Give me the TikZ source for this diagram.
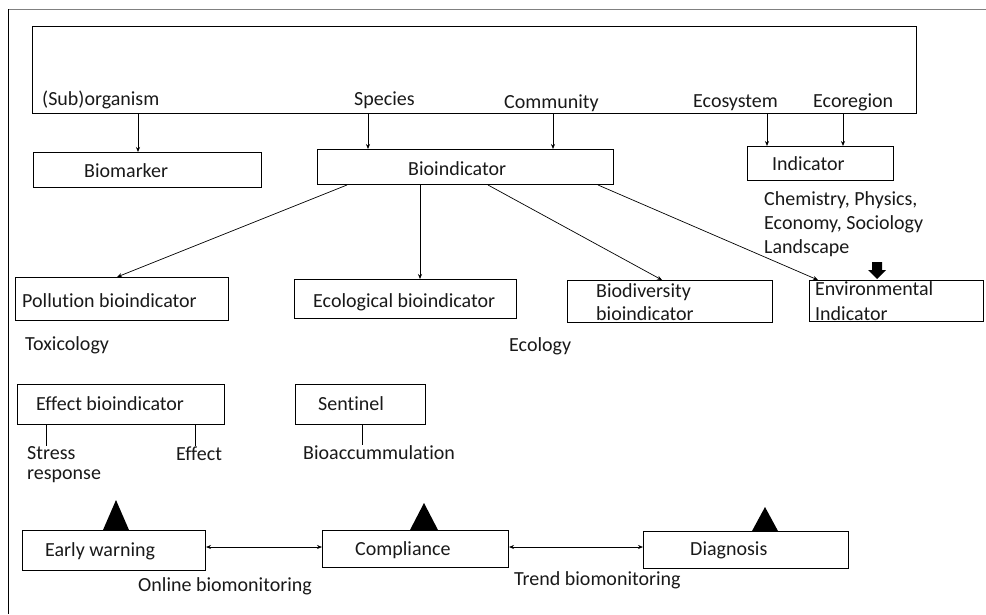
\documentclass[tikz,border=0pt]{standalone}
\usepackage{fontspec}
\setmainfont{Carlito}[Ligatures = NoCommon]
\usetikzlibrary{arrows.meta}

\begin{document}
\begin{tikzpicture}[
    x = 1pt, y = -1pt,
    every node/.style = {font = \fontsize{20}{24}\selectfont, text = black!90},
    box/.style = {draw, line width = 1pt, inner sep = 0pt, anchor = north west},
    word/.style = {anchor = base west, inner sep = 0pt},
    link/.style = {-{Stealth[length = 5pt, width = 4pt]}, line width = 0.7pt},
    twoway/.style = {{Stealth[length = 5pt, width = 4pt]}-{Stealth[length = 5pt, width = 4pt]}, line width = 0.7pt},
    tick/.style = {line width = 0.8pt}]

\useasboundingbox (0,0) rectangle (986,614);
\draw[gray, line width = 0.6pt] (986,9) -- (8,9);
\draw[line width = 1pt] (8,9) -- (8,614);

\node[box, minimum width = 884pt, minimum height = 87pt] (scale) at (32,26) {};
\node[word] (sub) at (42,105) {(Sub)organism};
\node[word] (spe) at (354,105) {Species};
\node[word] (com) at (504,108) {Community};
\node[word] (eco) at (693,107) {Ecosystem};
\node[word] (reg) at (813,107) {Ecoregion};

\node[box, minimum width = 228pt, minimum height = 35pt] (bmk) at (33,152) {};
\node[box, minimum width = 296pt, minimum height = 35pt] (bio) at (317,149) {};
\node[box, minimum width = 146pt, minimum height = 34pt] (ind) at (747,146) {};
\node[word] (bmktxt) at (84,177) {Biomarker};
\node[word] (biotxt) at (408,175) {Bioindicator};
\node[word] (indtxt) at (772,170) {Indicator};
\node[word] (chem1) at (764,205) {Chemistry, Physics,};
\node[word] (chem2) at (764,229) {Economy, Sociology};
\node[word] (chem3) at (764,253) {Landscape};

\node[box, minimum width = 213pt, minimum height = 43pt] (pol) at (15,277) {};
\node[box, minimum width = 222pt, minimum height = 39pt] (ecb) at (294,279) {};
\node[box, minimum width = 205pt, minimum height = 42pt] (bdv) at (567,280) {};
\node[box, minimum width = 174pt, minimum height = 41pt] (env) at (809,280) {};
\node[word] (poltxt) at (22,307) {Pollution bioindicator};
\node[word] (ecbtxt) at (313,307) {Ecological bioindicator};
\node[word] (bdvtxt1) at (596,297) {Biodiversity};
\node[word] (bdvtxt2) at (596,320) {bioindicator};
\node[word] (envtxt1) at (815,295) {Environmental};
\node[word] (envtxt2) at (815,320) {Indicator};
\node[word] (tox) at (25,350) {Toxicology};
\node[word] (ecol) at (509,351) {Ecology};

\node[box, minimum width = 207pt, minimum height = 40pt] (eff) at (17,384) {};
\node[box, minimum width = 130pt, minimum height = 40pt] (sen) at (295,384) {};
\node[word] (efftxt) at (36,410) {Effect bioindicator};
\node[word] (sentxt) at (318,410) {Sentinel};
\node[word] (stress) at (27,459) {Stress};
\node[word] (resp) at (27,479) {response};
\node[word] (effect) at (176,460) {Effect};
\node[word] (bioacc) at (303,459) {Bioaccummulation};

\node[box, minimum width = 183pt, minimum height = 40pt] (ew) at (22,530) {};
\node[box, minimum width = 186pt, minimum height = 37pt] (cmp) at (322,530) {};
\node[box, minimum width = 205pt, minimum height = 37pt] (dia) at (643,531) {};
\node[word] (ewtxt) at (45,556) {Early warning};
\node[word] (cmptxt) at (355,555) {Compliance};
\node[word] (diatxt) at (690,555) {Diagnosis};
\node[word] (online) at (138,591) {Online biomonitoring};
\node[word] (trend) at (514,585) {Trend biomonitoring};

\draw[link] (scale.south -| 138,0) -- (bmk.north -| 138,0);
\draw[link] (scale.south -| 368,0) -- (bio.north -| 368,0);
\draw[link] (scale.south -| 553,0) -- (bio.north -| 553,0);
\draw[link] (scale.south -| 767,0) -- (ind.north -| 767,0);
\draw[link] (scale.south -| 843,0) -- (ind.north -| 843,0);

\draw[link] (bio.south -| 347,0) -- (pol.north -| 117,0);
\draw[link] (bio.south -| 420,0) -- (ecb.north -| 420,0);
\draw[link] (bio.south -| 488,0) -- (bdv.north -| 662,0);
\draw[link] (bio.south -| 598,0) -- (env.north -| 818,0);

\fill (872,262) -- (882,262) -- (882,270) -- (886,270) -- (877,279)
	  -- (868,270) -- (872,270) -- cycle;

\draw[tick] (eff.south -| 46,0) -- (stress.north -| 46,0);
\draw[tick] (eff.south -| 195,0) -- (effect.north -| 195,0);
\draw[tick] (sen.south -| 362,0) -- (bioacc.north -| 362,0);

\fill (103,530) -- (116,500) -- (129,530) -- cycle;
\fill (410,530) -- (424,503) -- (438,530) -- cycle;
\fill (752,531) -- (765,507) -- (778,531) -- cycle;

\draw[twoway] (ew.east |- 0,547) -- (cmp.west |- 0,547);
\draw[twoway] (cmp.east |- 0,547) -- (dia.west |- 0,547);
\end{tikzpicture}
\end{document}
